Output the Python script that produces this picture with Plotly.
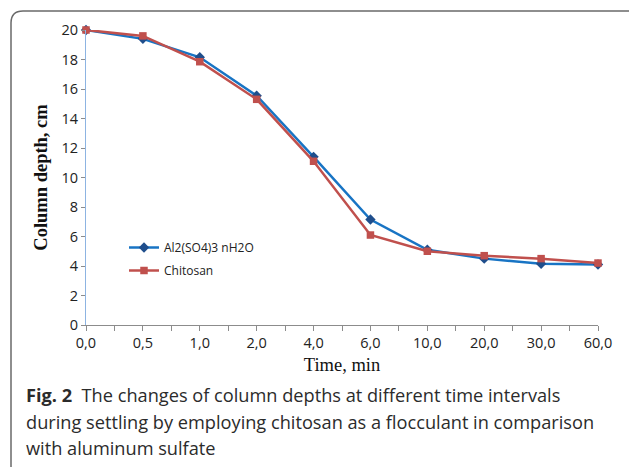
import plotly.graph_objects as go

# ---- data ----
time_labels = ["0,0", "0,5", "1,0", "2,0", "4,0", "6,0", "10,0", "20,0", "30,0", "60,0"]
al_sulfate = [20.0, 19.4, 18.15, 15.55, 11.4, 7.15, 5.1, 4.5, 4.15, 4.1]
chitosan = [20.0, 19.6, 17.85, 15.3, 11.1, 6.1, 5.0, 4.7, 4.5, 4.2]
y_ticks = [0, 2, 4, 6, 8, 10, 12, 14, 16, 18, 20]

W, H = 629, 467
L, R, T, B = 86, 31, 30, 142
PW, PH = W - L - R, H - T - B


def px(x):
    return (x - L) / PW


def py(y):
    return 1 - (y - T) / PH


fig = go.Figure()
fig.add_trace(go.Scatter(
    x=time_labels, y=al_sulfate, name="Al2(SO4)3 nH2O", mode="lines+markers",
    line=dict(color="#1874C4", width=2.5),
    marker=dict(symbol="diamond", size=8, color="#1F4E8C"),
    cliponaxis=False, legendgroup="a",
))
fig.add_trace(go.Scatter(
    x=time_labels, y=chitosan, name="Chitosan", mode="lines+markers",
    line=dict(color="#C0504D", width=2.5),
    marker=dict(symbol="square", size=7.5, color="#C0504D"),
    cliponaxis=False, legendgroup="b",
))
# overlay axis used only for the minor tick marks between categories
fig.add_trace(go.Scatter(x=[], y=[], xaxis="x2", showlegend=False, hoverinfo="skip"))

# rounded frame around figure + caption
x0, y0, x1, y1, r = 11, 11, 645, 480, 12
path = (
    f"M {px(x0)},{py(y0 + r)} "
    f"Q {px(x0)},{py(y0)} {px(x0 + r)},{py(y0)} "
    f"L {px(x1 - r)},{py(y0)} "
    f"Q {px(x1)},{py(y0)} {px(x1)},{py(y0 + r)} "
    f"L {px(x1)},{py(y1 - r)} "
    f"Q {px(x1)},{py(y1)} {px(x1 - r)},{py(y1)} "
    f"L {px(x0 + r)},{py(y1)} "
    f"Q {px(x0)},{py(y1)} {px(x0)},{py(y1 - r)} Z"
)

caption_lines = [
    "<b>Fig. 2</b>  The changes of column depths at different time intervals",
    "during settling by employing chitosan as a flocculant in comparison",
    "with aluminum sulfate",
]
caption_y = [395, 422, 448]
annotations = []
for txt, yy in zip(caption_lines, caption_y):
    annotations.append(dict(
        text=txt, xref="paper", yref="paper", x=px(24), y=py(yy),
        xanchor="left", yanchor="middle", showarrow=False,
        font=dict(family="Open Sans", size=18.2, color="#2b2b2b"),
    ))

fig.update_layout(
    width=W, height=H,
    margin=dict(l=L, r=R, t=T, b=B),
    paper_bgcolor="white", plot_bgcolor="white",
    showlegend=True,
    legend=dict(
        x=px(124), y=py(233), xanchor="left", yanchor="top",
        font=dict(family="Open Sans", size=12, color="#222"),
        bgcolor="rgba(0,0,0,0)", traceorder="grouped", tracegroupgap=4,
        itemwidth=30,
    ),
    xaxis=dict(
        type="category", range=[0, 9],
        showline=True, linecolor="#8C8C8C", linewidth=1,
        ticks="outside", ticklen=5, tickcolor="#8C8C8C",
        tickfont=dict(family="Open Sans", size=14.5, color="#222"),
        showgrid=False, zeroline=False,
        title=dict(text="Time, min", standoff=6,
                   font=dict(family="Liberation Serif", size=18.5, color="#111")),
    ),
    xaxis2=dict(
        overlaying="x", range=[0, 9], dtick=0.5, tick0=0,
        ticks="outside", ticklen=5, tickcolor="#8C8C8C",
        showticklabels=False, showgrid=False, zeroline=False, showline=False,
        anchor="y", side="bottom",
    ),
    yaxis=dict(
        range=[0, 20], tickvals=y_ticks,
        showline=True, linecolor="#8DB4E2", linewidth=1,
        ticks="outside", ticklen=4, tickcolor="#8C8C8C",
        tickfont=dict(family="Open Sans", size=14.5, color="#222"),
        showgrid=False, zeroline=False,
        title=dict(text="<b>Column depth, cm</b>", standoff=9,
                   font=dict(family="Liberation Serif", size=18.5, color="#111")),
    ),
    shapes=[dict(type="path", path=path, xref="paper", yref="paper",
                 line=dict(color="#6a6a6a", width=1.5), layer="below")],
    annotations=annotations,
)

fig.write_html("out.html")
